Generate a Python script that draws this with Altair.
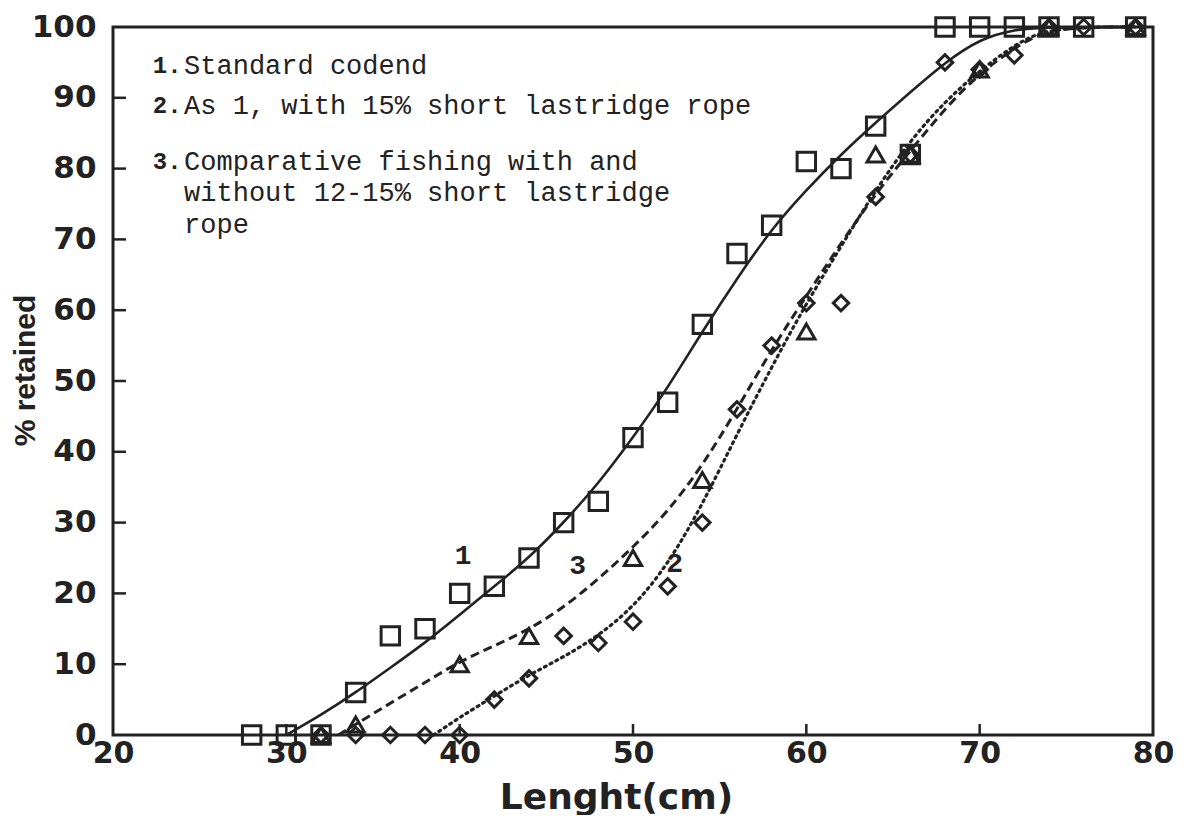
import altair as alt
import pandas as pd

# ---------------- data ----------------
# Series 1: standard codend (squares)
s1_x = [28, 30, 32, 34, 36, 38, 40, 42, 44, 46, 48, 50, 52, 54, 56, 58, 60, 62, 64, 66, 68, 70, 72, 74, 76, 79]
s1_y = [0, 0, 0, 6, 14, 15, 20, 21, 25, 30, 33, 42, 47, 58, 68, 72, 81, 80, 86, 82, 100, 100, 100, 100, 100, 100]
# Series 2: as 1, with 15% short lastridge rope (diamonds)
s2_x = [32, 34, 36, 38, 40, 42, 44, 46, 48, 50, 52, 54, 56, 58, 60, 62, 64, 66, 68, 70, 72, 74, 76, 79]
s2_y = [0, 0, 0, 0, 0, 5, 8, 14, 13, 16, 21, 30, 46, 55, 61, 61, 76, 82, 95, 94, 96, 100, 100, 100]
# Series 3: comparative fishing (triangles)
s3_x = [32, 34, 40, 44, 50, 54, 60, 64, 66, 70, 74, 79]
s3_y = [0, 1.5, 10, 14, 25, 36, 57, 82, 82, 94, 100, 100]

# Fitted curves
c1_x = [30, 32, 34, 36, 38, 40, 42, 44, 46, 48, 50, 52, 54, 56, 58, 60, 62, 64, 66, 68, 70, 72, 74, 79]
c1_y = [0, 2.8, 6, 9.5, 13, 17, 21, 25, 30, 35.5, 42, 49, 57, 64.5, 71.5, 77, 82, 86.5, 90.8, 95, 98.3, 99.7, 100, 100]
c2_x = [38.5, 40, 42, 44, 46, 48, 50, 52, 54, 56, 58, 60, 62, 64, 66, 68, 70, 72, 74, 79]
c2_y = [0, 2.5, 5.5, 8.5, 11, 14, 18, 24, 32.5, 42.5, 52, 61, 69, 77, 84, 89.5, 93.8, 97.5, 100, 100]
c3_x = [33, 34, 36, 38, 40, 42, 44, 46, 48, 50, 52, 54, 56, 58, 60, 62, 64, 66, 68, 70, 72, 74, 79]
c3_y = [0, 1.5, 4.5, 7.4, 10.4, 12.6, 14.9, 18, 22, 26.5, 31.5, 38, 46, 54.5, 62, 69.5, 76.5, 82.5, 88.5, 93.5, 97, 100, 100]

# Curve labels
lab_text = ["1", "3", "2"]
lab_x = [40.2, 46.8, 52.4]
lab_y = [25.3, 23.8, 24.2]

# Legend text block
leg_num = ["1.", "2.", "3."]
leg_num_y = [94.5, 88.8, 81.0]
leg_lines = ["Standard codend", "As 1, with 15% short lastridge rope",
             "Comparative fishing with and", "without 12-15% short lastridge", "rope"]
leg_lines_y = [94.5, 88.8, 81.0, 76.5, 72.0]
leg_num_x = 22.3
leg_text_x = 24.1

x_ticks = [30, 40, 50, 60, 70]
y_ticks = [10, 20, 30, 40, 50, 60, 70, 80, 90]

# ---------------- build tables ----------------
pts1 = pd.DataFrame({"x": s1_x, "y": s1_y})
pts2 = pd.DataFrame({"x": s2_x, "y": s2_y})
pts3 = pd.DataFrame({"x": s3_x, "y": s3_y})
cur1 = pd.DataFrame({"x": c1_x, "y": c1_y})
cur2 = pd.DataFrame({"x": c2_x, "y": c2_y})
cur3 = pd.DataFrame({"x": c3_x, "y": c3_y})
labs = pd.DataFrame({"t": lab_text, "x": lab_x, "y": lab_y})
legn = pd.DataFrame({"t": leg_num, "x": [leg_num_x] * 3, "y": leg_num_y})
legt = pd.DataFrame({"t": leg_lines, "x": [leg_text_x] * 5, "y": leg_lines_y})
xt = pd.DataFrame({"v": x_ticks})
yt = pd.DataFrame({"v": y_ticks})

W, H = 1040, 708
AX = "DejaVu Sans"
INK = "#222"

xs = alt.Scale(domain=[20, 80], nice=False, zero=False)
ys = alt.Scale(domain=[0, 100], nice=False)

x_enc = alt.X("x:Q", scale=xs, axis=alt.Axis(
    values=[20, 30, 40, 50, 60, 70, 80], title="Lenght(cm)", grid=False, ticks=False,
    domain=False, labelFont=AX, labelFontWeight="bold", labelFontSize=30,
    labelColor=INK, labelPadding=3, labelFlush=False,
    titleFont=AX, titleFontWeight="bold", titleFontSize=36, titleColor=INK,
    titleX=503, titleY=62, titleBaseline="middle", titleAlign="center"))
y_enc = alt.Y("y:Q", scale=ys, axis=alt.Axis(
    values=[0, 10, 20, 30, 40, 50, 60, 70, 80, 90, 100], title="% retained", grid=False,
    ticks=False, domain=False, labelFont=AX, labelFontWeight="bold", labelFontSize=31,
    labelColor=INK, labelPadding=17, labelFlush=False,
    titleFont="Liberation Sans", titleFontWeight="bold", titleFontSize=30, titleColor=INK,
    titleAngle=-90, titleX=-88, titleY=343, titleAlign="center", titleBaseline="middle"))

line1 = alt.Chart(cur1).mark_line(color=INK, strokeWidth=2.6, interpolate="basis").encode(
    x=x_enc, y=y_enc)
line2 = alt.Chart(cur2).mark_line(color=INK, strokeWidth=3.2, strokeDash=[2, 4.5], strokeCap="round",
                                  interpolate="basis").encode(x="x:Q", y="y:Q")
line3 = alt.Chart(cur3).mark_line(color=INK, strokeWidth=3, strokeDash=[9, 5],
                                  interpolate="basis").encode(x="x:Q", y="y:Q")

p1 = alt.Chart(pts1).mark_point(shape="square", size=340, filled=False, color=INK,
                                strokeWidth=3, opacity=1).encode(x="x:Q", y="y:Q")
p2 = alt.Chart(pts2).mark_point(shape="diamond", size=240, filled=False, color=INK,
                                strokeWidth=3, opacity=1).encode(x="x:Q", y="y:Q")
p3 = alt.Chart(pts3).mark_point(shape="triangle-up", size=300, filled=False, color=INK,
                                strokeWidth=3, opacity=1).encode(x="x:Q", y="y:Q")

labels = alt.Chart(labs).mark_text(font="Liberation Mono", fontWeight="bold", fontSize=28,
                                   color=INK).encode(x="x:Q", y="y:Q", text="t:N")
legnum = alt.Chart(legn).mark_text(font="Liberation Mono", fontWeight="bold", fontSize=24,
                                   color=INK, align="left", baseline="middle").encode(
    x="x:Q", y="y:Q", text="t:N")
legtxt = alt.Chart(legt).mark_text(font="Liberation Mono", fontSize=27, color=INK,
                                   align="left", baseline="middle").encode(
    x="x:Q", y="y:Q", text="t:N")

xticks = alt.Chart(xt).mark_rule(color=INK, strokeWidth=2.5).encode(
    x="v:Q", y=alt.value(H), y2=alt.value(H - 11))
yticks = alt.Chart(yt).mark_rule(color=INK, strokeWidth=2.5).encode(
    y="v:Q", x=alt.value(0), x2=alt.value(13))

chart = alt.layer(line1, line2, line3, p1, p2, p3, labels, legnum, legtxt, xticks, yticks).properties(
    width=W, height=H,
    background="white",
    autosize=alt.AutoSizeParams(type="none"),
    padding={"left": 105, "top": 19, "right": 20, "bottom": 80},
).configure_view(stroke=INK, strokeWidth=3)

chart.save("out.html", embed_options={"renderer": "svg", "actions": False})
